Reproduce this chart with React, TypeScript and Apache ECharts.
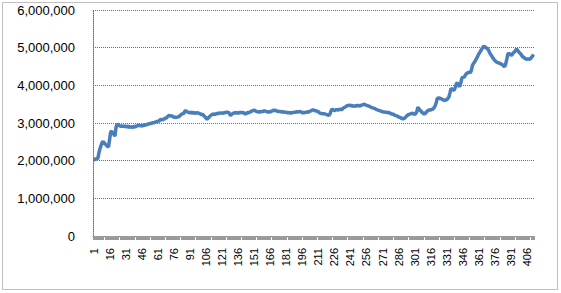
import React, { useEffect, useRef } from "react";
import * as echarts from "echarts";

// values in thousands, one per category (1..412)
const valuesK: number[] = [
  2020, 2030, 2050, 2040, 2060, 2200, 2320, 2400, 2480, 2510,
  2470, 2440, 2410, 2380, 2360, 2560, 2760, 2780, 2730, 2700,
  2650, 2880, 2970, 2950, 2930, 2920, 2910, 2930, 2900, 2920,
  2910, 2890, 2920, 2900, 2880, 2910, 2890, 2880, 2920, 2900,
  2910, 2930, 2950, 2920, 2940, 2910, 2930, 2950, 2940, 2960,
  2950, 2970, 2990, 2970, 3000, 2990, 3020, 3000, 3040, 3020,
  3060, 3040, 3080, 3100, 3070, 3110, 3090, 3140, 3120, 3170,
  3190, 3210, 3180, 3200, 3170, 3150, 3160, 3140, 3170, 3150,
  3180, 3200, 3230, 3250, 3240, 3300, 3330, 3310, 3290, 3280,
  3270, 3290, 3260, 3280, 3270, 3250, 3280, 3260, 3270, 3250,
  3240, 3220, 3230, 3190, 3170, 3130, 3100, 3130, 3160, 3190,
  3210, 3230, 3240, 3220, 3250, 3240, 3260, 3250, 3270, 3260,
  3270, 3250, 3280, 3270, 3290, 3280, 3290, 3240, 3200, 3230,
  3250, 3270, 3260, 3280, 3270, 3260, 3280, 3270, 3290, 3270,
  3280, 3250, 3240, 3260, 3280, 3270, 3290, 3300, 3320, 3330,
  3340, 3330, 3310, 3300, 3290, 3300, 3290, 3310, 3300, 3320,
  3320, 3310, 3300, 3290, 3300, 3290, 3310, 3320, 3340, 3330,
  3340, 3320, 3310, 3300, 3310, 3300, 3290, 3300, 3290, 3280,
  3290, 3270, 3280, 3270, 3260, 3280, 3270, 3290, 3280, 3290,
  3300, 3290, 3300, 3310, 3290, 3270, 3280, 3270, 3290, 3280,
  3300, 3290, 3310, 3320, 3340, 3350, 3340, 3320, 3330, 3310,
  3300, 3270, 3260, 3250, 3240, 3250, 3240, 3230, 3220, 3210,
  3200, 3250, 3330, 3370, 3350, 3330, 3340, 3360, 3340, 3350,
  3370, 3360, 3350, 3390, 3410, 3420, 3440, 3460, 3470, 3460,
  3480, 3450, 3460, 3440, 3450, 3460, 3450, 3470, 3460, 3450,
  3470, 3480, 3490, 3500, 3480, 3470, 3460, 3450, 3440, 3420,
  3410, 3400, 3390, 3380, 3360, 3350, 3340, 3330, 3320, 3310,
  3300, 3290, 3290, 3280, 3290, 3270, 3280, 3260, 3250, 3230,
  3240, 3210, 3200, 3190, 3180, 3160, 3150, 3140, 3120, 3110,
  3120, 3140, 3170, 3200, 3220, 3230, 3240, 3250, 3260, 3240,
  3230, 3250, 3300, 3420, 3380, 3340, 3310, 3280, 3260, 3240,
  3260, 3290, 3320, 3340, 3350, 3340, 3360, 3370, 3400, 3450,
  3520, 3640, 3670, 3650, 3660, 3640, 3620, 3610, 3600, 3610,
  3620, 3650, 3690, 3800, 3920, 3900, 3880, 3870, 3950, 4050,
  4060, 4000, 3960, 4050, 4180, 4220, 4210, 4250, 4300, 4320,
  4340, 4350, 4330, 4400, 4530, 4580, 4620, 4670, 4720, 4780,
  4840, 4880, 4930, 4980, 5020, 5040, 5010, 4990, 4980, 4930,
  4870, 4820, 4780, 4730, 4690, 4660, 4630, 4610, 4600, 4590,
  4580, 4560, 4550, 4520, 4490, 4560, 4680, 4820, 4850, 4830,
  4800, 4810, 4860, 4880, 4910, 4960, 4940, 4900, 4860, 4840,
  4790, 4760, 4740, 4720, 4700, 4690, 4710, 4690, 4700, 4740,
  4770, 4820,
];

const categories: string[] = valuesK.map((_, i) => String(i + 1));
const yMin = 0;
const yMax = 6000000;
const yInterval = 1000000;

export default function App() {
  const ref = useRef<HTMLDivElement>(null);
  useEffect(() => {
    if (!ref.current) return;
    const chart = echarts.init(ref.current, undefined, { renderer: "svg" });
    const font = "'Liberation Sans', Arial, sans-serif";
    chart.setOption({
      animation: false,
      backgroundColor: "#ffffff",
      textStyle: { fontFamily: font },
      grid: { left: 93, right: 27, top: 10, bottom: 57, containLabel: false },
      graphic: [
        {
          type: "rect",
          shape: { x: 2.5, y: 2.5, width: 555, height: 287 },
          style: { fill: "none", stroke: "#808080", lineWidth: 1, lineDash: [1, 1] },
          silent: true,
        },
      ],
      xAxis: {
        type: "category",
        data: categories,
        boundaryGap: true,
        axisLine: { show: true, lineStyle: { color: "#808080", width: 1 } },
        axisTick: { show: true, interval: 0, length: 4, lineStyle: { color: "#9a9a9a", width: 1 } },
        axisLabel: {
          interval: 14,
          rotate: 90,
          fontSize: 11,
          color: "#000000",
          fontFamily: font,
          margin: 12,
        },
        splitLine: { show: false },
      },
      yAxis: {
        type: "value",
        min: yMin,
        max: yMax,
        interval: yInterval,
        axisLine: { show: true, lineStyle: { color: "#707070", width: 1, type: [1, 1] } },
        axisTick: { show: false },
        axisLabel: {
          fontSize: 13,
          color: "#000000",
          fontFamily: font,
          margin: 18,
          formatter: (v: number) => v.toLocaleString("en-US"),
        },
        splitLine: { show: true, lineStyle: { color: "#6e6e6e", width: 1, type: [1, 1] } },
      },
      series: [
        {
          type: "line",
          data: valuesK.map((v) => v * 1000),
          showSymbol: false,
          symbol: "none",
          lineStyle: { color: "#4A7EBB", width: 3.5 },
          itemStyle: { color: "#4A7EBB" },
        },
      ],
    });
    return () => chart.dispose();
  }, []);
  return (
    <div
      ref={ref}
      style={{ position: "absolute", left: 0, top: 0, width: 561, height: 293 }}
    />
  );
}
